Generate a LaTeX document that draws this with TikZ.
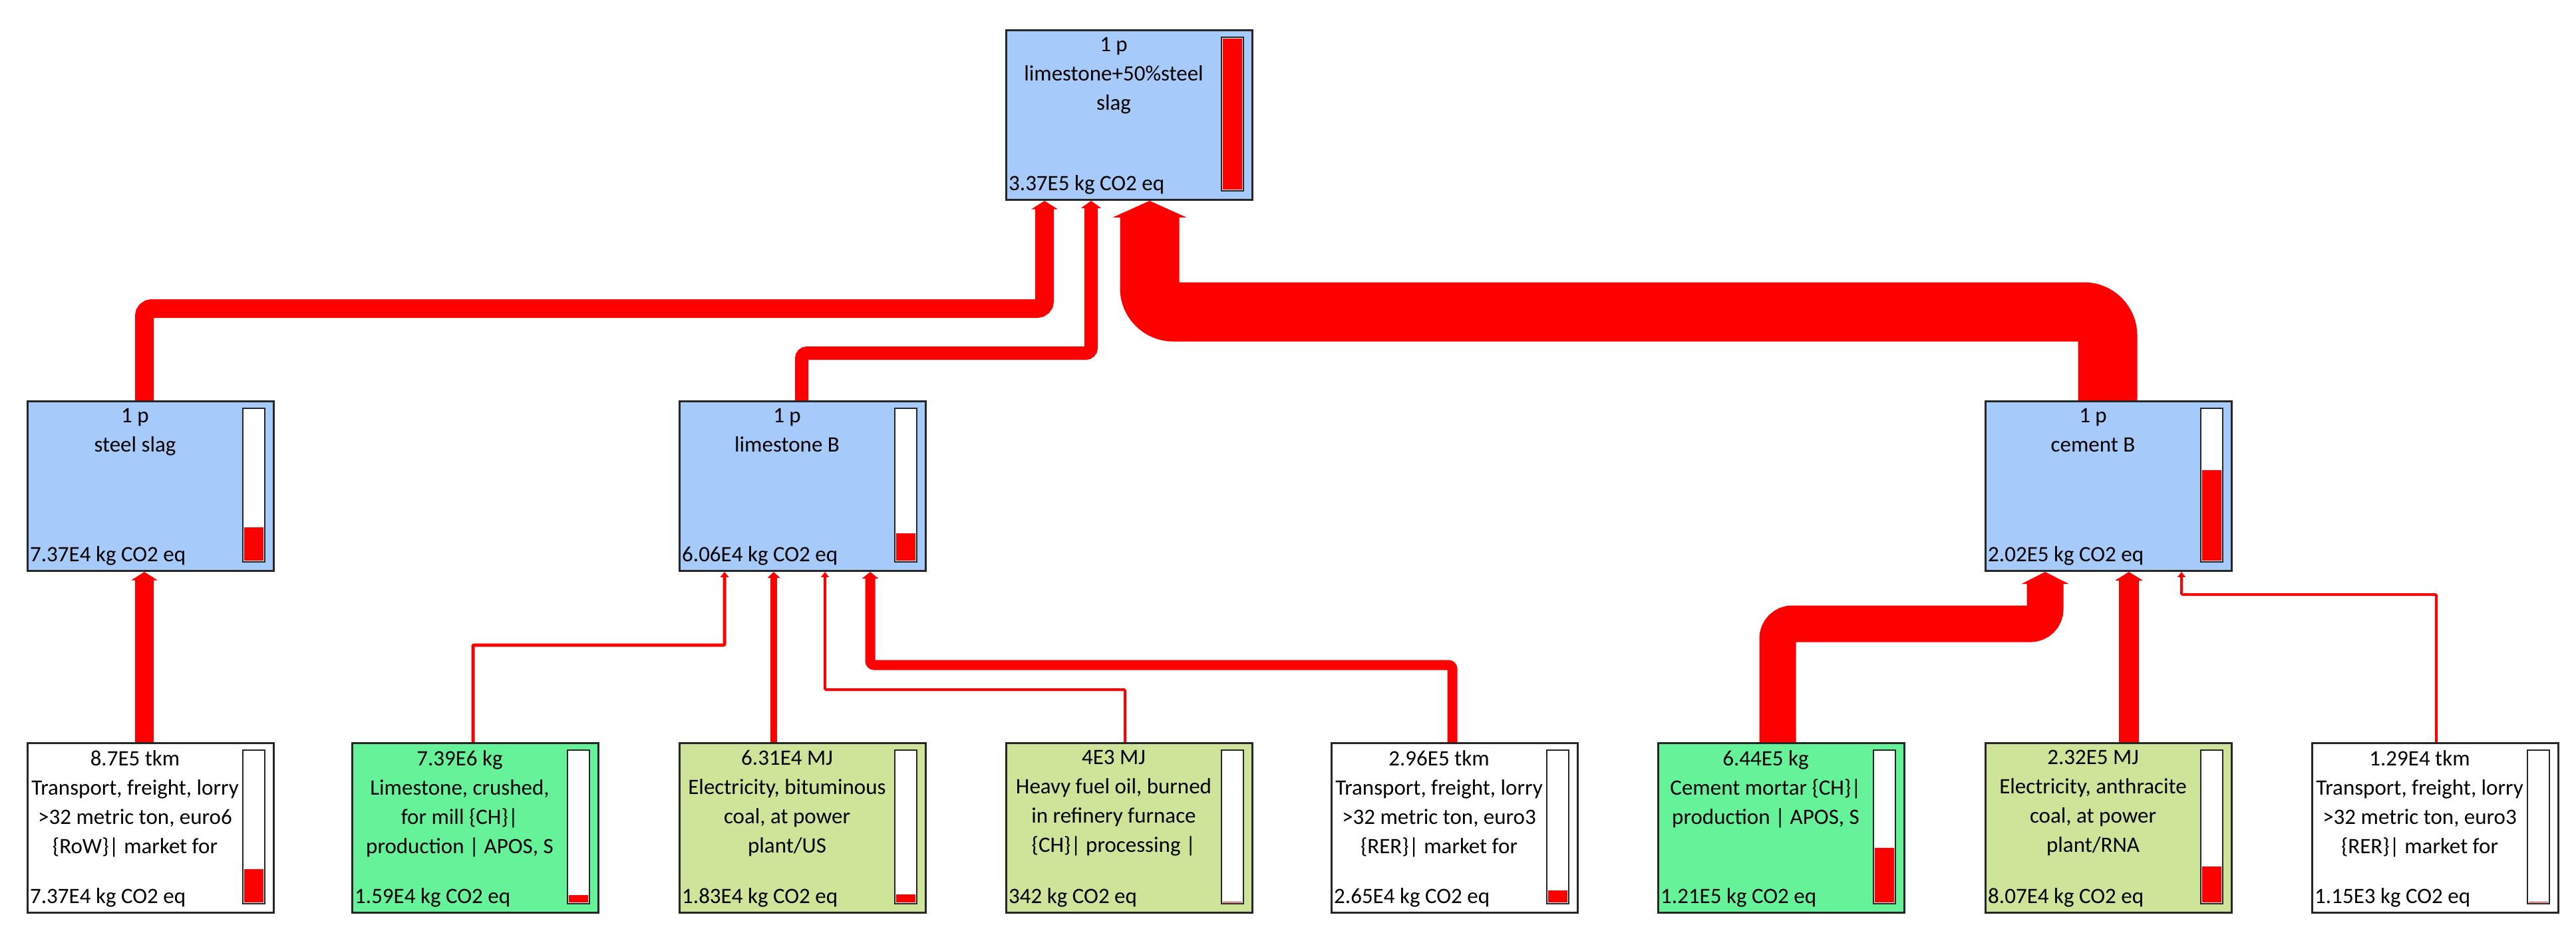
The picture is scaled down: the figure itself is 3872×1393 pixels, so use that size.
\documentclass[tikz,border=0pt]{standalone}
\usepackage{fontspec}
\setmainfont{Carlito}
\usetikzlibrary{arrows.meta,calc}
\definecolor{pblue}{RGB}{166,202,250}
\definecolor{pgreen}{RGB}{102,242,153}
\definecolor{polive}{RGB}{206,228,152}
\definecolor{fred}{RGB}{255,0,0}
\tikzset{
 box/.style={draw=black!85,line width=3pt,minimum width=370pt,minimum height=255pt,inner sep=0pt,anchor=north west},
 bar/.style={draw=black!85,line width=2.5pt,fill=white},
 txt/.style={font=\fontsize{33}{44}\selectfont,inner sep=0pt,align=center},
 flow/.style={draw=fred,line width=#1pt,rounded corners=#1*0.4pt,
   -{Triangle[length=7pt 0.2,width=7pt 1.15]}}
}
\newcommand\proc[7]{%
 \node[box,fill=#4] (#1) at (#2,#3) {};
 \draw[bar] ({#2+325},{#3+12}) rectangle ({#2+358},{#3+243});
 \fill[fred] ({#2+327},{#3+241}) rectangle ({#2+356},{#3+241-#5*227});
 \node[txt,anchor=north] at ({#2+163},{#3+12}) {#6};
 \node[txt,anchor=south west] at ({#2+5},{#3+248}) {#7};
}
\begin{document}
\begin{tikzpicture}[x=1pt,y=-1pt]
\useasboundingbox (0,0) rectangle (3872,1393);
\proc{top}{1511}{44}{pblue}{1}{1 p\\limestone+50\%steel\\slag}{3.37E5 kg CO2 eq}
\proc{ss}{40}{602}{pblue}{0.219}{1 p\\steel slag}{7.37E4 kg CO2 eq}
\proc{lb}{1020}{602}{pblue}{0.18}{1 p\\limestone B}{6.06E4 kg CO2 eq}
\proc{cb}{2983}{602}{pblue}{0.6}{1 p\\cement B}{2.02E5 kg CO2 eq}
\proc{b1}{40}{1116}{white}{0.219}{8.7E5 tkm\\Transport, freight, lorry\\>32 metric ton, euro6\\\{RoW\}| market for}{7.37E4 kg CO2 eq}
\proc{b2}{528}{1116}{pgreen}{0.047}{7.39E6 kg\\Limestone, crushed,\\for mill \{CH\}|\\production | APOS, S}{1.59E4 kg CO2 eq}
\proc{b3}{1020}{1116}{polive}{0.054}{6.31E4 MJ\\Electricity, bituminous\\coal, at power\\plant/US}{1.83E4 kg CO2 eq}
\proc{b4}{1511}{1116}{polive}{0.003}{4E3 MJ\\Heavy fuel oil, burned\\in refinery furnace\\\{CH\}| processing |}{342 kg CO2 eq}
\proc{b5}{2000}{1116}{white}{0.079}{2.96E5 tkm\\Transport, freight, lorry\\>32 metric ton, euro3\\\{RER\}| market for}{2.65E4 kg CO2 eq}
\proc{b6}{2491}{1116}{pgreen}{0.36}{6.44E5 kg\\Cement mortar \{CH\}|\\production | APOS, S}{1.21E5 kg CO2 eq}
\proc{b7}{2983}{1116}{polive}{0.24}{2.32E5 MJ\\Electricity, anthracite\\coal, at power\\plant/RNA}{8.07E4 kg CO2 eq}
\proc{b8}{3474}{1116}{white}{0.004}{1.29E4 tkm\\Transport, freight, lorry\\>32 metric ton, euro3\\\{RER\}| market for}{1.15E3 kg CO2 eq}
% bends
\coordinate (a1) at (217,464); \coordinate (a2) at (1570,464);
\coordinate (c1) at (1205,531); \coordinate (c2) at (1640,531);
\coordinate (d1) at (3168,469); \coordinate (d2) at (1728,469);
\coordinate (e1) at (711,970); \coordinate (e2) at (1089,970);
\coordinate (f1) at (1163,1000);
\coordinate (g1) at (1691,1037); \coordinate (g2) at (1240,1037);
\coordinate (h1) at (2183,1000); \coordinate (h2) at (1308,1000);
\coordinate (i1) at (2672,938); \coordinate (i2) at (3074,938);
\coordinate (j1) at (3200,900);
\coordinate (k1) at (3662,894); \coordinate (k2) at (3279,894);
\coordinate (m1) at (217,1000);
% flows to top
\draw[flow=28] (ss.north -| a1) -- (a1) -- (a2) -- (a2 |- top.south);
\draw[flow=20] (lb.north -| c1) -- (c1) -- (c2) -- (c2 |- top.south);
\draw[flow=89] (cb.north -| d1) -- (d1) -- (d2) -- (d2 |- top.south);
% flows to middle
\draw[flow=28] (b1.north -| m1) -- (ss.south -| m1);
\draw[flow=5] (b2.north -| e1) -- (e1) -- (e2) -- (e2 |- lb.south);
\draw[flow=10] (b3.north -| f1) -- (lb.south -| f1);
\draw[flow=4] (b4.north -| g1) -- (g1) -- (g2) -- (g2 |- lb.south);
\draw[flow=15] (b5.north -| h1) -- (h1) -- (h2) -- (h2 |- lb.south);
\draw[flow=55] (b6.north -| i1) -- (i1) -- (i2) -- (i2 |- cb.south);
\draw[flow=30] (b7.north -| j1) -- (cb.south -| j1);
\draw[flow=4] (b8.north -| k1) -- (k1) -- (k2) -- (k2 |- cb.south);
\end{tikzpicture}
\end{document}
